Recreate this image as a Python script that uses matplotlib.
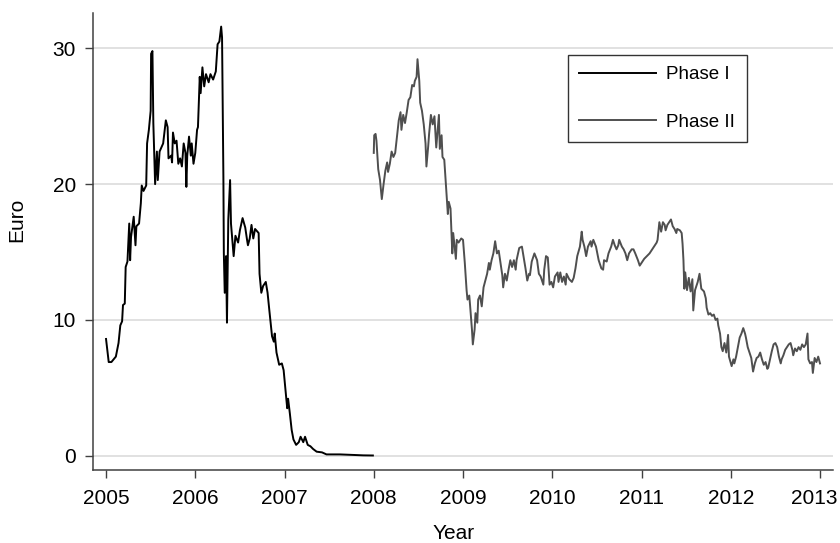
import numpy as np
import matplotlib.pyplot as plt
import matplotlib.transforms as mtransforms

# EU ETS pris, fase I (2005-2007) og fase II (2008-2012)
fase1_aar = [2005.00, 2005.03, 2005.06, 2005.11, 2005.14, 2005.16, 2005.18, 2005.19, 2005.21, 2005.22,
             2005.24, 2005.26, 2005.27, 2005.28, 2005.31, 2005.33, 2005.34, 2005.37, 2005.39, 2005.40,
             2005.42, 2005.45, 2005.46, 2005.48, 2005.50, 2005.505, 2005.52, 2005.53, 2005.55, 2005.57,
             2005.58, 2005.60, 2005.62, 2005.64, 2005.67, 2005.69, 2005.70, 2005.73, 2005.74, 2005.75,
             2005.77, 2005.79, 2005.81, 2005.83, 2005.85, 2005.87, 2005.89, 2005.90, 2005.91, 2005.93,
             2005.95, 2005.96, 2005.98, 2006.00, 2006.02, 2006.03, 2006.05, 2006.06, 2006.08, 2006.10,
             2006.12, 2006.15, 2006.17, 2006.20, 2006.23, 2006.25, 2006.27, 2006.29, 2006.30, 2006.315,
             2006.32, 2006.33, 2006.345, 2006.355, 2006.37, 2006.39, 2006.40, 2006.43, 2006.45, 2006.48,
             2006.50, 2006.53, 2006.56, 2006.58, 2006.59, 2006.61, 2006.63, 2006.65, 2006.67, 2006.71,
             2006.72, 2006.74, 2006.76, 2006.79, 2006.81, 2006.83, 2006.86, 2006.88, 2006.89, 2006.91,
             2006.94, 2006.97, 2006.99, 2007.01, 2007.03, 2007.04, 2007.06, 2007.08, 2007.10, 2007.13,
             2007.16, 2007.18, 2007.21, 2007.23, 2007.26, 2007.29, 2007.32, 2007.36, 2007.42, 2007.47,
             2007.62, 2007.81, 2007.88, 2007.99]
fase1_pris = [8.6, 6.9, 6.9, 7.3, 8.3, 9.6, 9.9, 11.1, 11.2, 13.9,
              14.3, 17.1, 14.4, 16.1, 17.6, 15.5, 16.9, 17.1, 18.6, 19.9,
              19.5, 19.9, 23.0, 24.0, 25.4, 29.6, 29.8, 24.5, 20.0, 22.4,
              20.3, 22.4, 22.7, 23.0, 24.7, 24.2, 21.9, 22.1, 21.6, 23.8,
              23.0, 23.2, 21.5, 21.9, 21.3, 23.0, 22.3, 19.8, 22.1, 23.5,
              22.1, 23.0, 21.5, 22.3, 24.0, 24.2, 27.9, 26.7, 28.6, 27.2,
              28.1, 27.5, 28.1, 27.7, 28.3, 30.3, 30.5, 31.6, 30.8, 20.5,
              14.9, 12.0, 14.7, 9.8, 17.4, 20.3, 17.1, 14.7, 16.2, 15.7,
              16.6, 17.5, 16.8, 15.9, 15.5, 16.0, 17.0, 16.0, 16.7, 16.4,
              13.4, 12.0, 12.5, 12.8, 12.0, 10.7, 8.8, 8.4, 9.0, 7.6,
              6.7, 6.8, 6.3, 4.9, 3.5, 4.2, 3.1, 1.9, 1.2, 0.8,
              1.0, 1.4, 1.0, 1.4, 0.8, 0.7, 0.5, 0.3, 0.25, 0.1,
              0.1, 0.05, 0.03, 0.02]

fase2_aar = [2008.00, 2008.005, 2008.02, 2008.03, 2008.05, 2008.07, 2008.09, 2008.11, 2008.13, 2008.15,
             2008.16, 2008.18, 2008.20, 2008.22, 2008.24, 2008.26, 2008.28, 2008.30, 2008.31, 2008.33,
             2008.35, 2008.37, 2008.39, 2008.41, 2008.43, 2008.45, 2008.46, 2008.48, 2008.49, 2008.51,
             2008.52, 2008.54, 2008.56, 2008.58, 2008.59, 2008.61, 2008.62, 2008.64, 2008.66, 2008.68,
             2008.70, 2008.73, 2008.74, 2008.76, 2008.77, 2008.79, 2008.81, 2008.83, 2008.84, 2008.86,
             2008.88, 2008.89, 2008.92, 2008.93, 2008.95, 2008.98, 2009.00, 2009.02, 2009.04, 2009.05,
             2009.07, 2009.08, 2009.10, 2009.11, 2009.13, 2009.14, 2009.16, 2009.17, 2009.19, 2009.21,
             2009.23, 2009.25, 2009.27, 2009.29, 2009.30, 2009.32, 2009.34, 2009.36, 2009.38, 2009.40,
             2009.42, 2009.44, 2009.45, 2009.47, 2009.49, 2009.51, 2009.53, 2009.55, 2009.57, 2009.59,
             2009.60, 2009.63, 2009.66, 2009.68, 2009.70, 2009.72, 2009.74, 2009.75, 2009.77, 2009.80,
             2009.83, 2009.85, 2009.87, 2009.90, 2009.91, 2009.93, 2009.95, 2009.97, 2009.99, 2010.01,
             2010.03, 2010.06, 2010.07, 2010.09, 2010.11, 2010.13, 2010.15, 2010.16, 2010.19, 2010.22,
             2010.24, 2010.26, 2010.28, 2010.31, 2010.33, 2010.34, 2010.36, 2010.38, 2010.40, 2010.43,
             2010.44, 2010.46, 2010.49, 2010.52, 2010.55, 2010.57, 2010.58, 2010.61, 2010.63, 2010.66,
             2010.68, 2010.70, 2010.72, 2010.74, 2010.75, 2010.78, 2010.80, 2010.82, 2010.84, 2010.86,
             2010.89, 2010.91, 2010.93, 2010.96, 2010.98, 2011.01, 2011.03, 2011.06, 2011.09, 2011.12,
             2011.14, 2011.17, 2011.18, 2011.20, 2011.22, 2011.24, 2011.26, 2011.27, 2011.29, 2011.31,
             2011.33, 2011.35, 2011.37, 2011.39, 2011.40, 2011.43, 2011.45, 2011.46, 2011.47, 2011.48,
             2011.49, 2011.51, 2011.53, 2011.55, 2011.57, 2011.58, 2011.60, 2011.63, 2011.65, 2011.67,
             2011.70, 2011.72, 2011.73, 2011.75, 2011.77, 2011.79, 2011.81, 2011.83, 2011.85, 2011.86,
             2011.88, 2011.895, 2011.91, 2011.93, 2011.95, 2011.97, 2011.98, 2012.01, 2012.03, 2012.04,
             2012.06, 2012.08, 2012.10, 2012.12, 2012.14, 2012.16, 2012.17, 2012.19, 2012.21, 2012.23,
             2012.25, 2012.27, 2012.29, 2012.31, 2012.33, 2012.35, 2012.37, 2012.39, 2012.41, 2012.42,
             2012.44, 2012.46, 2012.48, 2012.50, 2012.52, 2012.54, 2012.56, 2012.57, 2012.59, 2012.61,
             2012.63, 2012.65, 2012.67, 2012.69, 2012.70, 2012.72, 2012.74, 2012.76, 2012.78, 2012.80,
             2012.82, 2012.84, 2012.86, 2012.87, 2012.89, 2012.91, 2012.92, 2012.94, 2012.96, 2012.98,
             2013.00]
fase2_pris = [22.3, 23.6, 23.7, 23.2, 21.1, 20.3, 18.9, 20.0, 21.0, 21.6,
              20.9, 21.5, 22.4, 22.0, 22.3, 23.5, 24.7, 25.3, 24.0, 25.1,
              24.5, 25.3, 26.2, 26.4, 27.3, 27.2, 27.6, 27.9, 29.2, 27.6,
              26.0, 25.4, 24.4, 23.0, 21.3, 22.8, 23.7, 25.1, 24.4, 25.0,
              22.7, 25.1, 22.6, 23.6, 22.0, 21.8, 19.8, 17.8, 18.7, 18.2,
              14.9, 16.4, 14.5, 15.9, 15.7, 16.0, 15.9, 14.2, 12.2, 11.5,
              11.8, 11.0, 9.3, 8.2, 9.3, 10.5, 9.8, 11.5, 11.8, 11.0,
              12.4, 12.9, 13.4, 14.2, 13.7, 14.4, 14.9, 15.8, 14.9, 15.1,
              14.2, 13.3, 12.4, 13.4, 12.9, 13.7, 14.4, 13.9, 14.4, 13.7,
              14.4, 15.3, 15.4, 14.6, 13.8, 12.9, 13.4, 13.3, 14.3, 14.9,
              14.4, 13.4, 13.2, 12.6, 13.7, 14.7, 14.6, 12.6, 12.8, 12.4,
              13.2, 13.5, 12.8, 13.5, 12.8, 13.2, 12.6, 13.4, 13.0, 12.8,
              13.1, 13.8, 14.7, 15.4, 16.5, 15.9, 15.4, 14.7, 15.4, 15.8,
              15.4, 15.9, 15.4, 14.4, 13.8, 13.7, 14.4, 14.3, 14.9, 15.4,
              15.9, 15.5, 15.2, 15.5, 15.9, 15.4, 15.2, 14.9, 14.4, 14.9,
              15.2, 15.2, 14.9, 14.4, 14.0, 14.3, 14.5, 14.7, 14.9, 15.2,
              15.4, 15.7, 15.9, 17.2, 16.5, 17.2, 17.0, 16.6, 17.0, 17.2,
              17.4, 16.9, 16.7, 16.4, 16.7, 16.6, 16.4, 15.6, 14.4, 12.3,
              13.5, 12.2, 13.1, 12.1, 13.0, 10.7, 12.2, 12.8, 13.4, 12.3,
              12.1, 11.6, 10.9, 10.4, 10.5, 10.3, 10.4, 10.0, 10.1, 9.6,
              9.0, 8.0, 7.7, 8.3, 7.6, 8.9, 7.3, 6.6, 7.1, 6.8,
              7.3, 8.0, 8.7, 9.0, 9.4, 9.0, 8.7, 8.0, 7.6, 7.2,
              6.2, 6.8, 7.2, 7.3, 7.6, 7.1, 6.7, 6.9, 6.4, 6.5,
              7.1, 7.7, 8.2, 8.3, 8.0, 7.3, 6.8, 7.1, 7.4, 7.8,
              8.0, 8.2, 8.3, 7.8, 7.4, 7.9, 7.7, 8.0, 7.8, 8.2,
              8.0, 8.2, 9.0, 7.1, 6.8, 6.9, 6.1, 7.2, 6.9, 7.3,
              6.8]

aar_ticks = [2005, 2006, 2007, 2008, 2009, 2010, 2011, 2012, 2013]
euro_ticks = [0, 10, 20, 30]

plt.rcParams["font.family"] = ["Liberation Sans", "DejaVu Sans"]

fig, ax = plt.subplots(figsize=(8.4, 5.43), dpi=100)
fig.subplots_adjust(left=0.1104, right=0.9917, bottom=0.1344, top=0.9755)

ax.plot(fase1_aar, fase1_pris, color="black", linewidth=1.4, label="Phase I")
ax.plot(fase2_aar, fase2_pris, color="#4f4f4f", linewidth=1.4, label="Phase II")

ax.set_xlim(2004.851, 2013.146)
ax.set_ylim(-1.05, 32.58)
ax.set_xticks(aar_ticks)
ax.set_yticks(euro_ticks)
ax.grid(axis="y", color="#dcdcdc", linewidth=1.2)
ax.set_axisbelow(True)

for side in ["top", "right"]:
    ax.spines[side].set_visible(False)
for side in ["left", "bottom"]:
    ax.spines[side].set_color("#404040")
    ax.spines[side].set_linewidth(1.1)
ax.tick_params(axis="both", labelsize=15, length=6, color="#404040", width=1, pad=6)
ax.tick_params(axis="x", pad=8)

# siste årstall flyttes litt til venstre så det ikke kuttes i kanten
siste = ax.get_xticklabels()[-1]
siste.set_transform(siste.get_transform() +
                    mtransforms.ScaledTranslation(-0.06, 0, fig.dpi_scale_trans))

ax.set_xlabel("Year", fontsize=15, va="center")
ax.xaxis.set_label_coords(0.488, -0.140)
ax.set_ylabel("Euro", fontsize=15, va="center")
ax.yaxis.set_label_coords(-0.102, 0.547)

leg = ax.legend(loc="upper left", bbox_to_anchor=(0.642, 0.9087), borderaxespad=0,
                fontsize=13.5, frameon=True, fancybox=False, handlelength=4.1,
                labelspacing=1.6, borderpad=0.6, handletextpad=0.55)
leg.get_frame().set_edgecolor("black")
leg.get_frame().set_linewidth(1.0)

plt.savefig("out.png", dpi=100)
